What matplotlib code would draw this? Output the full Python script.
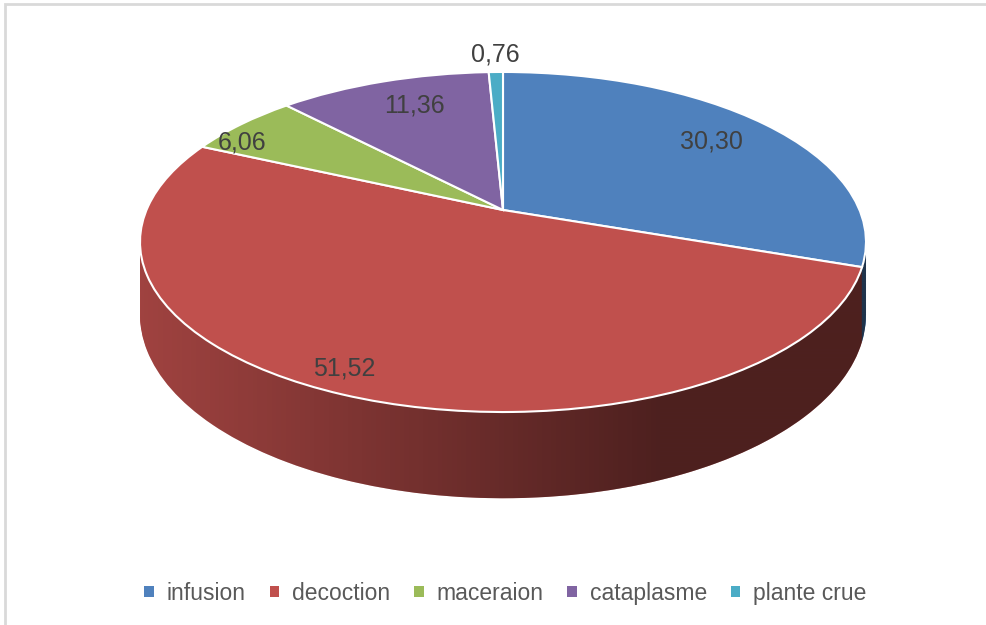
import numpy as np
import matplotlib
matplotlib.use("Agg")
import matplotlib.pyplot as plt
from matplotlib.transforms import Transform
from matplotlib.patches import Patch, PathPatch, Rectangle
from matplotlib.path import Path

labels = ["infusion", "decoction", "maceraion", "cataplasme", "plante crue"]
values = [30.30, 51.52, 6.06, 11.36, 0.76]
value_text = ["30,30", "51,52", "6,06", "11,36", "0,76"]
colors = ["#4F81BD", "#C0504D", "#9BBB59", "#8064A2", "#4BACC6"]

# label placement: distance from centre (pie radius units) and angle nudge (deg)
label_r = [0.78, 0.9, 0.91, 0.78, 1.15]
label_nudge = [0, -3, 6, -2, 0]

# 3d view (pixels): projected centre, half axes, perspective and depth
CX, CY = 503, 210
A, B, K = 356.5, 164.0, 0.1882
DEPTH = 70.0


class Tilt(Transform):
    """unit-circle pie coords -> tilted disc in pixel coords"""
    input_dims = 2
    output_dims = 2
    is_separable = False
    has_inverse = False

    def __init__(self, drop=0.0):
        super().__init__()
        self.drop = drop

    def transform_non_affine(self, values):
        values = np.asarray(values, float)
        x, y = values[:, 0], values[:, 1]
        w = 1 + K * y
        return np.column_stack([CX + A * x / w, CY + (-B * y + self.drop) / w])


fig = plt.figure(figsize=(9.87, 6.25), dpi=100)
ax = fig.add_axes([0, 0, 1, 1])

# side wall: stacked pies going up
for d in np.linspace(DEPTH, 0, 50):
    wedges, _ = ax.pie(values, colors=colors, startangle=90, counterclock=False,
                       wedgeprops=dict(linewidth=0, zorder=1))
    for w in wedges:
        w.set_transform(Tilt(d) + ax.transData)

# horizontal shading of the wall
k_ang = np.degrees(np.arcsin(K))
far = np.radians(np.linspace(-k_ang, 180 + k_ang, 200))
near = np.radians(np.linspace(180 + k_ang, 360 - k_ang, 200))
top_pts = Tilt(0).transform(np.column_stack([np.cos(far), np.sin(far)]))
bot_pts = Tilt(DEPTH).transform(np.column_stack([np.cos(near), np.sin(near)]))
hull = np.vstack([top_pts, bot_pts, top_pts[:1]])
clip = PathPatch(Path(hull), transform=ax.transData, facecolor="none", edgecolor="none")
ax.add_patch(clip)

xs = np.arange(987)
alpha = 0.17 + 0.43 * np.clip((xs - 140) / (660 - 140), 0, 1)
grad = np.zeros((2, 987, 4))
grad[..., 3] = alpha
img = ax.imshow(grad, extent=(0, 987, 540, 40), aspect="auto",
                interpolation="bilinear", zorder=1.5)
img.set_clip_path(clip)

# top face
wedges, _ = ax.pie(values, colors=colors, startangle=90, counterclock=False,
                   wedgeprops=dict(linewidth=1.5, edgecolor="white", zorder=2))
for w in wedges:
    w.set_transform(Tilt(0) + ax.transData)

# value labels
cum = np.cumsum(values) - np.array(values) / 2
for txt, mid, r, nd in zip(value_text, cum, label_r, label_nudge):
    phi = np.radians(90 - 360 * mid / sum(values) + nd)
    px, py = Tilt(0).transform(np.array([[r * np.cos(phi), r * np.sin(phi)]]))[0]
    ax.text(px, py, txt, ha="center", va="center", fontsize=18,
            color="#404040", family="Liberation Sans", zorder=3)

ax.set_xlim(0, 987)
ax.set_ylim(625, 0)
ax.set_aspect("auto")
ax.axis("off")

handles = [Patch(facecolor=c, edgecolor="none") for c in colors]
fig.legend(handles, labels, loc="center", bbox_to_anchor=(0.512, 0.051), ncol=5,
           frameon=False, handlelength=0.42, handleheight=0.42, handletextpad=0.55,
           columnspacing=1.05, labelcolor="#595959",
           prop={"family": "Liberation Sans", "size": 16.5})

fig.patches.append(Rectangle((0.005, -0.1), 1.1, 1.0936, transform=fig.transFigure,
                             fill=False, edgecolor="#d9d9d9", linewidth=2))

fig.savefig("out.png", dpi=100)
